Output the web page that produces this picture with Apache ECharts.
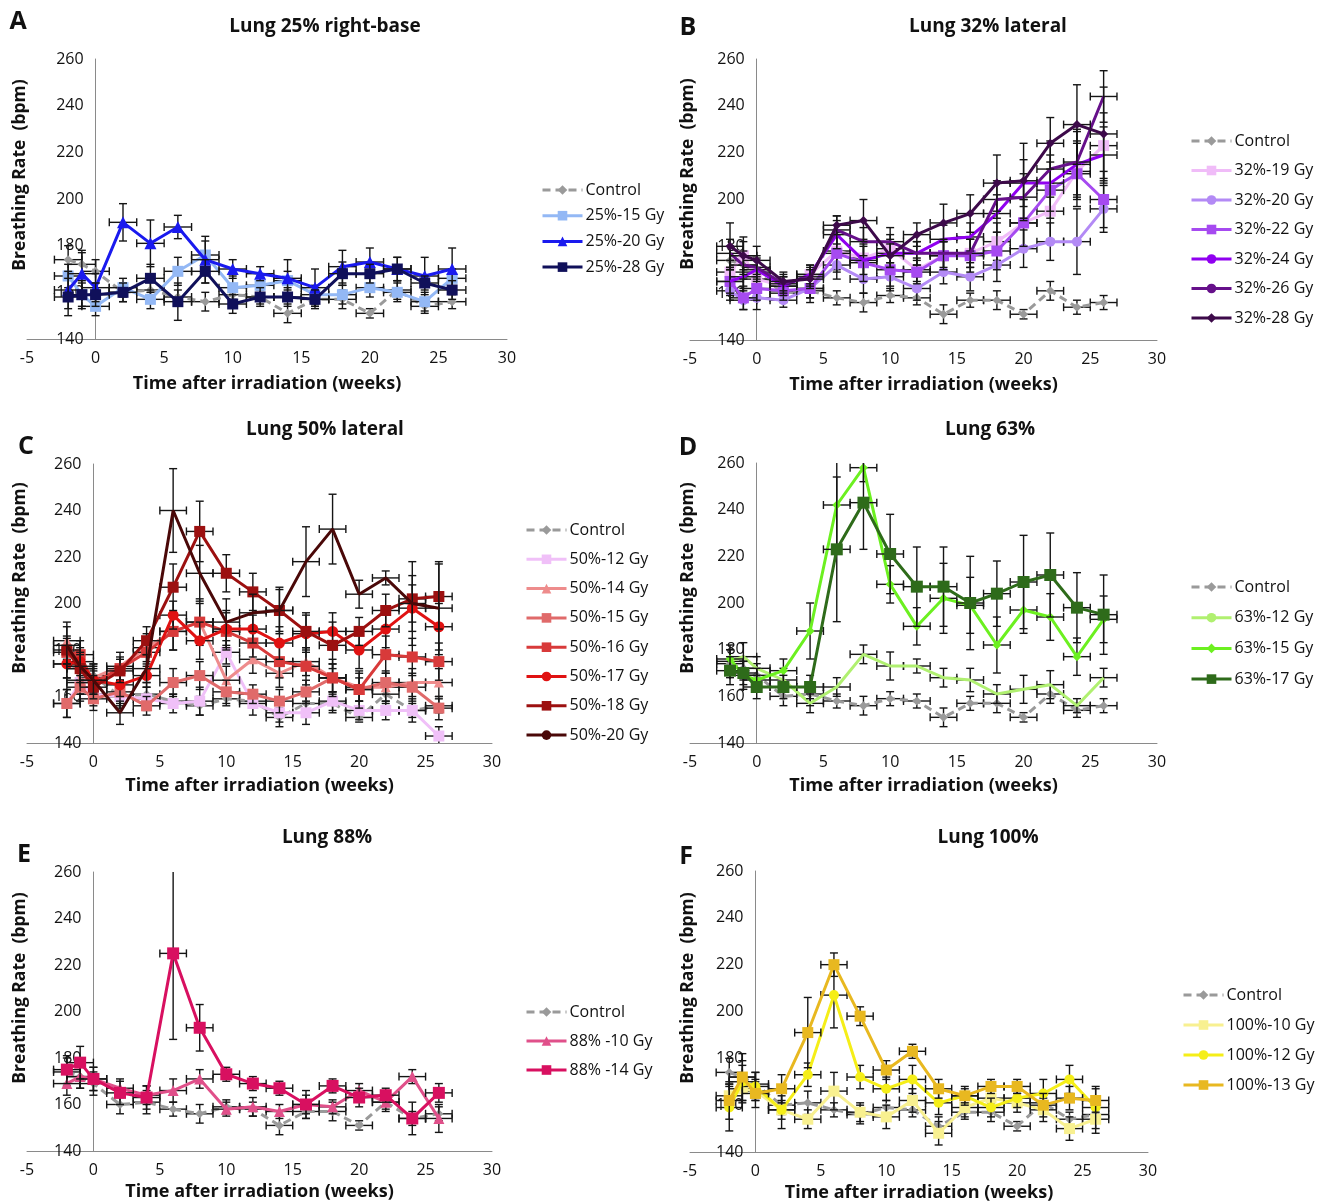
<!DOCTYPE html>
<html>
<head>
<meta charset="utf-8">
<title>Breathing rate after irradiation</title>
<script src="https://cdn.jsdelivr.net/npm/echarts@6/dist/echarts.min.js"></script>
<style>
  html, body { margin: 0; padding: 0; background: #fff; }
  #chart { width: 1331px; height: 1204px; }
</style>
</head>
<body>
<div id="chart"></div>
<script>
// time points (weeks after irradiation)
const weeks = [-2, -1, 0, 2, 4, 6, 8, 10, 12, 14, 16, 18, 20, 22, 24, 26];

// control group (same in every panel)
const control    = [174, 172, 169, 160, 161, 158, 156, 159, 158, 151, 157, 157, 151, 161, 154, 156];
const controlErr = [6, 5, 5, 4, 5, 3, 4, 3, 3, 4, 3, 4, 2, 4, 3, 3];

// A - lung 25% right-base
const a15 = [167, 159, 154, 162, 157, 169, 176, 162, 163, 165, 159, 159, 162, 160, 156, 166];
const a15Err = [5, 5, 4, 4, 4, 6, 6, 5, 4, 4, 4, 4, 4, 4, 4, 4];
const a20 = [161, 168, 162, 190, 181, 188, 174, 170, 168, 166, 162, 171, 173, 170, 167, 170];
const a20Err = [8, 10, 6, 8, 10, 5, 10, 4, 3, 8, 8, 7, 6, 5, 8, 9];
const a28 = [158, 159, 159, 160, 166, 156, 169, 155, 158, 158, 157, 168, 168, 170, 164, 161];
const a28Err = [8, 6, 5, 4, 6, 8, 5, 4, 4, 4, 4, 5, 4, 5, 3, 4];

// B - lung 32% lateral
const b19 = [169, 176, 166, 163, 168, 178, 175, 179, 170, 176, 177, 182, 190, 195, 212, 223];
const b19Err = [5, 6, 5, 4, 4, 8, 8, 6, 5, 6, 6, 8, 10, 12, 12, 14];
const b20 = [161, 157, 158, 157, 162, 172, 166, 167, 162, 169, 167, 172, 179, 182, 182, 196];
const b20Err = [4, 4, 5, 3, 4, 6, 6, 6, 5, 5, 6, 7, 8, 8, 14, 10];
const b22 = [165, 158, 162, 161, 162, 177, 173, 170, 169, 176, 176, 178, 190, 204, 211, 200];
const b22Err = [6, 5, 5, 4, 4, 8, 8, 7, 5, 6, 7, 8, 10, 12, 14, 12];
const b24 = [165, 167, 170, 163, 168, 185, 174, 177, 177, 183, 184, 194, 207, 207, 215, 219];
const b24Err = [5, 5, 5, 4, 4, 6, 6, 6, 5, 6, 6, 8, 10, 12, 14, 12];
const b26 = [177, 172, 171, 164, 167, 187, 182, 182, 177, 177, 177, 200, 201, 213, 216, 244];
const b26Err = [6, 6, 5, 4, 4, 6, 6, 6, 5, 6, 6, 8, 10, 12, 14, 11];
const b28 = [180, 176, 174, 165, 166, 189, 191, 176, 185, 190, 194, 207, 208, 224, 232, 228];
const b28Err = [10, 8, 6, 4, 4, 4, 9, 5, 5, 8, 8, 12, 16, 11, 17, 20];

// C - lung 50% lateral
const c12 = [157, 166, 161, 160, 159, 157, 158, 179, 157, 153, 153, 158, 154, 154, 154, 143];
const c12Err = [6, 5, 5, 5, 5, 4, 6, 5, 5, 4, 5, 4, 4, 4, 5, 4];
const c14 = [184, 167, 168, 173, 181, 188, 192, 167, 176, 170, 175, 168, 164, 164, 166, 166];
const c14Err = [8, 6, 6, 6, 6, 8, 8, 6, 6, 6, 6, 6, 6, 6, 6, 6];
const c15 = [157, 164, 159, 162, 156, 166, 169, 162, 161, 158, 162, 168, 163, 166, 164, 155];
const c15Err = [6, 6, 5, 5, 4, 6, 6, 5, 4, 5, 5, 6, 5, 5, 6, 5];
const c16 = [179, 178, 166, 172, 179, 188, 192, 188, 183, 175, 173, 168, 163, 178, 177, 175];
const c16Err = [6, 6, 5, 5, 6, 8, 10, 8, 6, 7, 8, 8, 8, 8, 8, 8];
const c17 = [174, 175, 167, 165, 169, 195, 184, 189, 189, 183, 187, 188, 180, 189, 198, 190];
const c17Err = [6, 6, 5, 5, 5, 6, 8, 8, 6, 7, 8, 8, 8, 8, 10, 10];
const c18 = [180, 172, 164, 171, 184, 207, 231, 213, 205, 197, 188, 182, 188, 197, 202, 203];
const c18Err = [6, 6, 5, 5, 6, 10, 13, 8, 8, 9, 8, 10, 6, 7, 10, 14];
const c20 = [182, 173, 167, 153, 172, 240, 213, 192, 196, 197, 218, 232, 204, 211, 200, 198];
const c20Err = [8, 6, 6, 5, 6, 18, 12, 10, 8, 10, 15, 15, 6, 3, 18, 20];

// D - lung 63%
const d12 = [175, 177, 172, 167, 157, 164, 178, 173, 173, 168, 167, 161, 163, 165, 156, 168];
const d12Err = [5, 6, 5, 5, 4, 4, 4, 6, 3, 4, 5, 4, 6, 6, 3, 4];
const d15 = [176, 169, 167, 171, 188, 242, 258, 208, 190, 202, 199, 182, 197, 194, 177, 193];
const d15Err = [6, 6, 5, 5, 12, 20, 6, 8, 8, 15, 12, 12, 10, 10, 8, 10];
const d17 = [171, 170, 164, 164, 164, 223, 243, 221, 207, 207, 200, 204, 209, 212, 198, 195];
const d17Err = [6, 5, 5, 5, 5, 31, 20, 17, 17, 17, 20, 14, 20, 18, 15, 17];

// E - lung 88%
const e10 = [169, 172, 171, 167, 164, 166, 171, 158, 159, 157, 160, 159, 166, 161, 172, 154];
const e10Err = [5, 5, 5, 4, 4, 5, 4, 3, 4, 3, 4, 3, 3, 3, 3, 6];
const e14 = [175, 178, 171, 165, 163, 225, 193, 173, 169, 167, 160, 168, 163, 164, 154, 165];
const e14Err = [6, 7, 5, 5, 5, 37, 10, 3, 3, 3, 6, 3, 4, 3, 7, 4];

// F - lung 100%
const f10 = [164, 167, 166, 158, 154, 166, 157, 155, 162, 148, 159, 163, 161, 158, 150, 154];
const f10Err = [5, 5, 4, 4, 4, 8, 4, 5, 5, 5, 4, 5, 4, 5, 5, 6];
const f12 = [159, 170, 168, 158, 173, 207, 172, 167, 171, 161, 164, 159, 163, 165, 171, 159];
const f12Err = [10, 9, 6, 8, 5, 14, 5, 5, 6, 5, 4, 4, 4, 6, 6, 9];
const f13 = [162, 172, 165, 167, 191, 220, 198, 175, 183, 167, 164, 168, 168, 160, 163, 162];
const f13Err = [8, 10, 6, 6, 15, 5, 4, 4, 3, 4, 3, 3, 3, 5, 5, 5];

const FONT = "'Open Sans', 'DejaVu Sans', sans-serif";
const X_MIN = -5, X_MAX = 30;
const Y_MIN = 140, Y_MAX = 260;

const panels = [
  {
    title: 'Lung 25% right-base', letter: 'A', titlePos: [325, 27], letterPos: [18, 22], yNamePos: [20, 175],
    grid: { left: 27, top: 59, width: 480, height: 280 }, nameGap: 36,
    legend: { left: 541, top: 182, itemGap: 9.7 },
    series: [
      { name: '25%-15 Gy', vals: a15, err: a15Err, color: '#93b8f5', symbol: 'rect', size: 11 },
      { name: '25%-20 Gy', vals: a20, err: a20Err, color: '#1a1aee', symbol: 'triangle', size: 12 },
      { name: '25%-28 Gy', vals: a28, err: a28Err, color: '#10105a', symbol: 'rect', size: 11 }
    ]
  },
  {
    title: 'Lung 32% lateral', letter: 'B', titlePos: [988, 27], letterPos: [688, 28], yNamePos: [688, 174],
    grid: { left: 690, top: 59, width: 467, height: 281 }, nameGap: 36,
    legend: { left: 1190, top: 133, itemGap: 13.5 },
    series: [
      { name: '32%-19 Gy', vals: b19, err: b19Err, color: '#f0bcf8', symbol: 'rect', size: 11 },
      { name: '32%-20 Gy', vals: b20, err: b20Err, color: '#b38af5', symbol: 'circle', size: 10 },
      { name: '32%-22 Gy', vals: b22, err: b22Err, color: '#a64af0', symbol: 'rect', size: 11 },
      { name: '32%-24 Gy', vals: b24, err: b24Err, color: '#9000f0', symbol: 'none', size: 0 },
      { name: '32%-26 Gy', vals: b26, err: b26Err, color: '#66108a', symbol: 'none', size: 0 },
      { name: '32%-28 Gy', vals: b28, err: b28Err, color: '#3d0a4a', symbol: 'diamond', size: 9 }
    ]
  },
  {
    title: 'Lung 50% lateral', letter: 'C', titlePos: [325, 430], letterPos: [26, 447], yNamePos: [20, 578],
    grid: { left: 27, top: 464, width: 465, height: 279 }, nameGap: 34,
    legend: { left: 525, top: 522, itemGap: 13.3 },
    series: [
      { name: '50%-12 Gy', vals: c12, err: c12Err, color: '#f0c0f8', symbol: 'rect', size: 11 },
      { name: '50%-14 Gy', vals: c14, err: c14Err, color: '#ee8c8c', symbol: 'triangle', size: 10 },
      { name: '50%-15 Gy', vals: c15, err: c15Err, color: '#e06a6a', symbol: 'rect', size: 11 },
      { name: '50%-16 Gy', vals: c16, err: c16Err, color: '#d83a3a', symbol: 'rect', size: 11 },
      { name: '50%-17 Gy', vals: c17, err: c17Err, color: '#e01212', symbol: 'circle', size: 11 },
      { name: '50%-18 Gy', vals: c18, err: c18Err, color: '#9c1010', symbol: 'rect', size: 11 },
      { name: '50%-20 Gy', vals: c20, err: c20Err, color: '#4a0808', symbol: 'none', size: 0 }
    ]
  },
  {
    title: 'Lung 63%', letter: 'D', titlePos: [990, 430], letterPos: [688, 448], yNamePos: [688, 578],
    grid: { left: 690, top: 463, width: 467, height: 280 }, nameGap: 34,
    legend: { left: 1190, top: 579, itemGap: 14.7 },
    series: [
      { name: '63%-12 Gy', vals: d12, err: d12Err, color: '#b0f070', symbol: 'none', size: 0 },
      { name: '63%-15 Gy', vals: d15, err: d15Err, color: '#6cf020', symbol: 'diamond', size: 9 },
      { name: '63%-17 Gy', vals: d17, err: d17Err, color: '#2e6b1a', symbol: 'rect', size: 12 }
    ]
  },
  {
    title: 'Lung 88%', letter: 'E', titlePos: [327, 838], letterPos: [24, 855], yNamePos: [20, 988],
    grid: { left: 27, top: 872, width: 465, height: 279 }, nameGap: 32,
    legend: { left: 525, top: 1004, itemGap: 13 },
    series: [
      { name: '88% -10 Gy', vals: e10, err: e10Err, color: '#e0508a', symbol: 'triangle', size: 11 },
      { name: '88% -14 Gy', vals: e14, err: e14Err, color: '#d81060', symbol: 'rect', size: 12 }
    ]
  },
  {
    title: 'Lung 100%', letter: 'F', titlePos: [988, 838], letterPos: [686, 857], yNamePos: [688, 988],
    grid: { left: 690, top: 871, width: 458, height: 281 }, nameGap: 32,
    legend: { left: 1182, top: 987, itemGap: 14 },
    series: [
      { name: '100%-10 Gy', vals: f10, err: f10Err, color: '#f8f090', symbol: 'rect', size: 11 },
      { name: '100%-12 Gy', vals: f12, err: f12Err, color: '#f5ee18', symbol: 'circle', size: 10 },
      { name: '100%-13 Gy', vals: f13, err: f13Err, color: '#e8b820', symbol: 'rect', size: 11 }
    ]
  }
];

// black error bars: +-err on y, +-1 week on x, with caps
function errorBars(idx, vals, errs, z) {
  return {
    type: 'custom',
    xAxisIndex: idx,
    yAxisIndex: idx,
    z: z,
    silent: true,
    encode: { x: 0, y: 1 },
    data: weeks.map((w, i) => [w, vals[i], errs[i]]),
    renderItem: function (params, api) {
      const x = api.value(0), y = api.value(1), e = api.value(2);
      const top = Math.min(y + e, Y_MAX), bot = Math.max(y - e, Y_MIN);
      const pt = api.coord([x, top]);
      const pb = api.coord([x, bot]);
      const pl = api.coord([x - 1, y]);
      const pr = api.coord([x + 1, y]);
      const cap = 4;
      const style = { stroke: '#151515', lineWidth: 1.4 };
      const lines = [
        [pt[0], pt[1], pb[0], pb[1]],
        [pl[0], pl[1], pr[0], pr[1]],
        [pl[0], pl[1] - cap, pl[0], pl[1] + cap],
        [pr[0], pr[1] - cap, pr[0], pr[1] + cap]
      ];
      if (y + e <= Y_MAX) lines.push([pt[0] - cap, pt[1], pt[0] + cap, pt[1]]);
      if (y - e >= Y_MIN) lines.push([pb[0] - cap, pb[1], pb[0] + cap, pb[1]]);
      return {
        type: 'group',
        children: lines.map(l => ({
          type: 'line',
          shape: { x1: l[0], y1: l[1], x2: l[2], y2: l[3] },
          style: style
        }))
      };
    }
  };
}

const option = {
  animation: false,
  backgroundColor: '#ffffff',
  textStyle: { fontFamily: FONT },
  grid: [],
  xAxis: [],
  yAxis: [],
  legend: [],
  series: [],
  graphic: []
};

panels.forEach((p, i) => {
  option.grid.push(Object.assign({ containLabel: false, outerBoundsMode: 'none' }, p.grid));

  option.xAxis.push({
    type: 'value', gridIndex: i, min: X_MIN, max: X_MAX, interval: 5,
    name: 'Time after irradiation (weeks)', nameLocation: 'middle', nameGap: p.nameGap,
    nameTextStyle: { fontSize: 18, fontWeight: 'bold', color: '#111', fontFamily: FONT },
    axisLine: { onZero: false, lineStyle: { color: '#8a8a8a', width: 1 } },
    axisTick: { show: false },
    splitLine: { show: false },
    axisLabel: { fontSize: 16, color: '#111', margin: 11, fontFamily: FONT }
  });

  // y axis sits at week 0, like the original: shift it into the grid
  const zeroShift = (0 - X_MIN) / (X_MAX - X_MIN) * p.grid.width;
  option.yAxis.push({
    type: 'value', gridIndex: i, min: Y_MIN, max: Y_MAX, interval: 20,
    position: 'left', offset: -zeroShift,
    axisLine: { show: true, onZero: false, lineStyle: { color: '#8a8a8a', width: 1 } },
    axisTick: { show: false },
    splitLine: { show: false },
    axisLabel: { fontSize: 16, color: '#111', margin: 12, fontFamily: FONT }
  });

  const all = [{ name: 'Control', vals: control, err: controlErr, color: '#9a9a9a', symbol: 'diamond', size: 9, dashed: true }]
    .concat(p.series);

  all.forEach((s, k) => {
    option.series.push(errorBars(i, s.vals, s.err, 2 + k * 2));
    option.series.push({
      type: 'line',
      name: s.name,
      xAxisIndex: i,
      yAxisIndex: i,
      z: 3 + k * 2,
      data: weeks.map((w, j) => [w, s.vals[j]]),
      symbol: s.symbol,
      symbolSize: s.size,
      showSymbol: s.symbol !== 'none',
      lineStyle: { color: s.color, width: 3, type: s.dashed ? [8, 5] : 'solid' },
      itemStyle: { color: s.color },
      emphasis: { disabled: true }
    });
  });

  option.legend.push({
    orient: 'vertical',
    left: p.legend.left,
    top: p.legend.top,
    padding: 0,
    itemGap: p.legend.itemGap,
    itemWidth: 40,
    itemHeight: 12,
    selectedMode: false,
    lineStyle: { width: 3 },
    textStyle: { fontSize: 16, color: '#111', fontFamily: FONT, padding: [0, 0, 0, -2] },
    data: all.map(s => s.name)
  });

  option.graphic.push(
    {
      type: 'text', x: p.titlePos[0], y: p.titlePos[1],
      style: { text: p.title, font: 'bold 19px ' + FONT, fill: '#111', textAlign: 'center', textVerticalAlign: 'middle' }
    },
    {
      type: 'text', x: p.letterPos[0], y: p.letterPos[1],
      style: { text: p.letter, font: 'bold 25px ' + FONT, fill: '#111', textAlign: 'center', textVerticalAlign: 'middle' }
    },
    {
      type: 'text', x: p.yNamePos[0], y: p.yNamePos[1], rotation: Math.PI / 2,
      style: { text: 'Breathing Rate  (bpm)', font: 'bold 17.5px ' + FONT, fill: '#111', textAlign: 'center', textVerticalAlign: 'middle' }
    }
  );
});

const myChart = echarts.init(document.getElementById('chart'));
myChart.setOption(option);
window.addEventListener('resize', () => myChart.resize());
</script>
</body>
</html>
